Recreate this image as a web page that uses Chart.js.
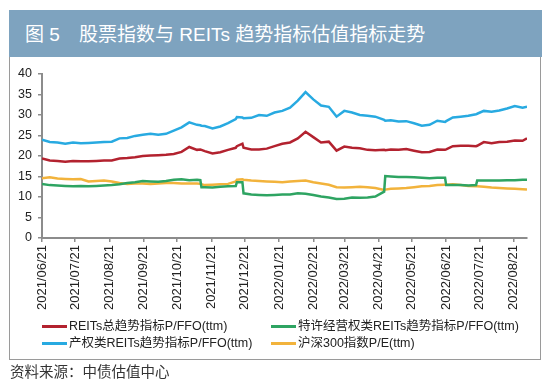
<!DOCTYPE html>
<html>
<head>
<meta charset="utf-8">
<script src="https://cdn.jsdelivr.net/npm/chart.js@4"></script>
<style>
  html, body { margin: 0; padding: 0; background: #fff; }
  body { width: 550px; height: 390px; position: relative; overflow: hidden;
    font-family: 'Liberation Sans', 'Noto Sans CJK SC', sans-serif; color: #222; }
  .band { position: absolute; left: 9px; top: 10px; width: 533px; height: 47px; background: #7ea3bf; }
  .title { position: absolute; top: 23px; color: #fff; font-size: 19px; line-height: 23px; white-space: nowrap; }
  .box { position: absolute; left: 9px; top: 57px; width: 530px; height: 302px; border: 1px solid #9a9a9a; border-top: none; }
  #chart { position: absolute; left: 0; top: 0; }
  .lg { position: absolute; font-size: 12.5px; line-height: 14px; white-space: nowrap; color: #222; }
  .lg i { position: absolute; left: 0; top: 6px; width: 25px; height: 3px; }
  .lg span { position: absolute; left: 27px; top: 0; }
  .src { position: absolute; left: 10px; top: 363px; font-size: 14.5px; line-height: 18px; color: #333; }
</style>
</head>
<body>
<div class="band"></div>
<div class="title" style="left:25px">图 5</div>
<div class="title" style="left:79px">股票指数与 REITs 趋势指标估值指标走势</div>
<div class="box"></div>
<canvas id="chart" width="550" height="390"></canvas>
<div id="legend"></div>
<div class="src">资料来源：中债估值中心</div>
<script>
const dates = [
  '2021-06-21','2021-06-28','2021-07-05','2021-07-12','2021-07-19','2021-07-26','2021-08-02','2021-08-09','2021-08-16','2021-08-23',
  '2021-08-30','2021-09-06','2021-09-13','2021-09-20','2021-09-27','2021-10-04','2021-10-11','2021-10-18','2021-10-25','2021-11-01',
  '2021-11-08','2021-11-11','2021-11-12','2021-11-15','2021-11-22','2021-11-29','2021-12-06','2021-12-13','2021-12-14','2021-12-19',
  '2021-12-20','2021-12-27','2022-01-03','2022-01-10','2022-01-17','2022-01-24','2022-01-31','2022-02-07','2022-02-14','2022-02-21',
  '2022-02-28','2022-03-07','2022-03-14','2022-03-21','2022-03-28','2022-04-04','2022-04-11','2022-04-18','2022-04-26','2022-04-27',
  '2022-05-02','2022-05-09','2022-05-16','2022-05-23','2022-05-30','2022-06-06','2022-06-13','2022-06-20','2022-06-21','2022-06-27',
  '2022-07-04','2022-07-11','2022-07-18','2022-07-19','2022-07-25','2022-08-01','2022-08-08','2022-08-15','2022-08-22','2022-08-29',
  '2022-09-02'
];

// REITs总趋势指标P/FFO(ttm)
const totalPffo = [
  19.4, 18.9, 18.8, 18.6, 18.8, 18.7, 18.7, 18.8, 18.9, 18.9,
  19.4, 19.5, 19.7, 20.0, 20.1, 20.2, 20.3, 20.5, 21.0, 22.2,
  21.5, 21.6, 21.5, 21.2, 20.6, 20.9, 21.5, 22.0, 22.4, 23.0,
  22.0, 21.6, 21.6, 21.8, 22.4, 23.0, 23.3, 24.3, 25.9, 24.6,
  23.3, 23.5, 21.3, 22.3, 22.0, 21.9, 21.5, 21.4, 21.5, 21.4,
  21.6, 21.5, 21.7, 21.3, 20.9, 21.0, 21.6, 21.5, 21.6, 22.4,
  22.5, 22.5, 22.4, 22.5, 23.4, 23.1, 23.4, 23.5, 23.8, 23.7,
  24.3
];
// 特许经营权类REITs趋势指标P/FFO(ttm)
const franchisePffo = [
  13.2, 12.9, 12.8, 12.7, 12.6, 12.7, 12.6, 12.7, 12.8, 12.9,
  13.1, 13.4, 13.6, 13.9, 13.8, 13.7, 13.9, 14.2, 14.3, 14.1,
  14.2, 14.1, 12.4, 12.4, 12.3, 12.5, 12.6, 12.7, 13.6, 13.6,
  10.9, 10.6, 10.5, 10.4, 10.5, 10.6, 10.6, 10.9, 10.8, 10.5,
  10.1, 9.9, 9.5, 9.6, 9.9, 9.8, 9.9, 10.1, 11.3, 15.1,
  15.0, 14.9, 14.9, 14.8, 14.7, 14.6, 14.7, 14.7, 12.9, 12.9,
  12.9, 12.8, 12.9, 14.0, 14.0, 14.0, 14.0, 14.1, 14.1, 14.2,
  14.2
];
// 产权类REITs趋势指标P/FFO(ttm)
const propertyPffo = [
  24.0, 23.4, 23.3, 23.0, 23.3, 23.1, 23.2, 23.3, 23.4, 23.5,
  24.3, 24.4, 24.9, 25.2, 25.4, 25.2, 25.4, 26.2, 27.0, 28.2,
  27.6, 27.5, 27.4, 27.3, 26.7, 27.2, 28.0, 29.0, 29.5, 29.4,
  29.2, 29.3, 30.0, 29.8, 30.6, 31.0, 31.8, 33.5, 35.6, 33.8,
  32.3, 32.0, 29.6, 31.0, 30.6, 30.0, 29.8, 29.6, 28.8, 28.6,
  28.7, 28.4, 28.5, 28.0, 27.4, 27.6, 28.6, 28.3, 28.5, 29.4,
  29.6, 29.8, 30.2, 30.3, 31.0, 30.8, 31.1, 31.6, 32.2, 31.8,
  32.0
];
// 沪深300指数P/E(ttm)
const csi300Pe = [
  14.6, 14.8, 14.5, 14.4, 14.3, 14.4, 13.8, 13.9, 14.0, 13.8,
  13.4, 13.2, 13.3, 13.3, 13.2, 13.3, 13.4, 13.4, 13.3, 13.3,
  13.3, 13.2, 13.1, 12.9, 13.0, 13.1, 13.2, 13.8, 14.2, 14.3,
  14.2, 14.0, 13.9, 13.8, 13.7, 13.6, 13.8, 13.9, 14.0, 13.6,
  13.3, 13.0, 12.4, 12.3, 12.4, 12.5, 12.4, 12.2, 11.7, 11.8,
  12.0, 12.1, 12.2, 12.4, 12.6, 12.7, 12.9, 13.0, 13.0, 13.1,
  12.9, 12.7, 12.6, 12.6, 12.5, 12.3, 12.2, 12.1, 12.0, 11.9,
  11.8
];

const tickLabels = ['2021/06/21','2021/07/21','2021/08/21','2021/09/21','2021/10/21','2021/11/21','2021/12/21',
  '2022/01/21','2022/02/21','2022/03/21','2022/04/21','2022/05/21','2022/06/21','2022/07/21','2022/08/21'];

const seriesNames = ['REITs总趋势指标P/FFO(ttm)', '特许经营权类REITs趋势指标P/FFO(ttm)', '产权类REITs趋势指标P/FFO(ttm)', '沪深300指数P/E(ttm)'];
const seriesColors = ['#b3222f', '#2ea462', '#28aae1', '#f2b33c'];
const seriesValues = [totalPffo, franchisePffo, propertyPffo, csi300Pe];

const start = Date.parse('2021-06-21');
const dayOf = s => (Date.parse(s.replace(/\//g, '-')) - start) / 864e5;
const tickDays = tickLabels.map(dayOf);

Chart.defaults.font.family = "'Liberation Sans', 'Noto Sans CJK SC', sans-serif";
Chart.defaults.color = '#222';

const chart = new Chart(document.getElementById('chart'), {
  type: 'line',
  data: {
    datasets: seriesValues.map((vals, i) => ({
      label: seriesNames[i],
      data: vals.map((v, j) => ({ x: dayOf(dates[j]), y: v })),
      borderColor: seriesColors[i],
      backgroundColor: seriesColors[i],
      borderWidth: 2.5,
      pointRadius: 0,
      tension: 0
    }))
  },
  options: {
    responsive: false,
    animation: false,
    layout: { padding: { left: 0, top: 74, right: 23, bottom: 80 } },
    plugins: { legend: { display: false }, tooltip: { enabled: false } },
    scales: {
      x: {
        type: 'linear',
        min: 0,
        max: dayOf(dates[dates.length - 1]),
        afterBuildTicks: s => { s.ticks = tickDays.map(v => ({ value: v })); },
        afterFit: s => { s.height = 72; },
        border: { color: '#8c8c8c', width: 2 },
        grid: { drawOnChartArea: false, drawTicks: true, tickLength: 4, color: '#8c8c8c', lineWidth: 1.5 },
        ticks: {
          autoSkip: false,
          minRotation: 90,
          maxRotation: 90,
          padding: 3,
          font: { size: 13 },
          color: '#222',
          callback: (v, i) => tickLabels[i]
        }
      },
      y: {
        min: 0,
        max: 40,
        afterFit: s => { s.width = 42; },
        border: { color: '#8c8c8c', width: 2 },
        grid: { drawOnChartArea: false, drawTicks: true, tickLength: 4, color: '#8c8c8c', lineWidth: 1.5 },
        ticks: { stepSize: 5, padding: 6, font: { size: 12.5 }, color: '#222' }
      }
    }
  }
});

// legend laid out in two columns like the original
const legendPos = [[42, 319], [271, 319], [42, 335.5], [271, 335.5]];
const legend = document.getElementById('legend');
chart.data.datasets.forEach((ds, i) => {
  const el = document.createElement('div');
  el.className = 'lg';
  el.style.left = legendPos[i][0] + 'px';
  el.style.top = legendPos[i][1] + 'px';
  el.innerHTML = '<i style="background:' + ds.borderColor + '"></i><span>' + ds.label + '</span>';
  legend.appendChild(el);
});
</script>
</body>
</html>
